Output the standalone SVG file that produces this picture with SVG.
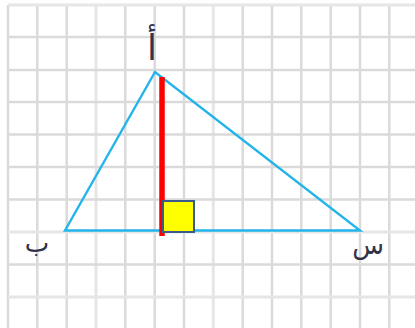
<svg xmlns="http://www.w3.org/2000/svg" width="415" height="328" viewBox="0 0 415 328">
<style>
.g{stroke:#dadada;stroke-width:2.5;fill:none}
.gl{stroke:#e6e6e6;stroke-width:3;fill:none}
.lbl{font-family:"DejaVu Sans",sans-serif;font-size:26px;fill:#33334a;text-anchor:middle}
</style>
<rect width="415" height="328" fill="#fff"/>
<g id="grid">
<line class="g" x1="8" y1="5" x2="8" y2="328"/>
<line class="g" x1="37.3" y1="5" x2="37.3" y2="328"/>
<line class="g" x1="66.7" y1="5" x2="66.7" y2="328"/>
<line class="gl" x1="96" y1="5" x2="96" y2="328"/>
<line class="g" x1="125.3" y1="5" x2="125.3" y2="328"/>
<line class="g" x1="154.7" y1="5" x2="154.7" y2="328"/>
<line class="g" x1="184" y1="5" x2="184" y2="328"/>
<line class="gl" x1="213.3" y1="5" x2="213.3" y2="328"/>
<line class="g" x1="242.7" y1="5" x2="242.7" y2="328"/>
<line class="g" x1="272" y1="5" x2="272" y2="328"/>
<line class="g" x1="301.3" y1="5" x2="301.3" y2="328"/>
<line class="g" x1="330.7" y1="5" x2="330.7" y2="328"/>
<line class="g" x1="360" y1="5" x2="360" y2="328"/>
<line class="g" x1="389.3" y1="5" x2="389.3" y2="328"/>
<line class="gl" x1="8" y1="5" x2="415" y2="5"/>
<line class="g" x1="8" y1="37" x2="415" y2="37"/>
<line class="g" x1="8" y1="70" x2="415" y2="70"/>
<line class="g" x1="8" y1="102" x2="415" y2="102"/>
<line class="g" x1="8" y1="134.5" x2="415" y2="134.5"/>
<line class="g" x1="8" y1="167" x2="415" y2="167"/>
<line class="g" x1="8" y1="199.5" x2="415" y2="199.5"/>
<line class="gl" x1="8" y1="232" x2="415" y2="232"/>
<line class="g" x1="8" y1="264.5" x2="415" y2="264.5"/>
<line class="gl" x1="8" y1="297" x2="415" y2="297"/>
</g>
<g id="triangle">
<polygon points="155,72 65,230.5 360,230.5" fill="none" stroke="#22b4ea" stroke-width="2.4" stroke-linejoin="miter"/>
</g>
<g id="height">
<line x1="162" y1="77" x2="162" y2="236" stroke="#ff0000" stroke-width="5.5"/>
</g>
<g id="right-angle">
<rect x="163" y="201" width="31" height="31" fill="#ffff00" stroke="#3a5a8c" stroke-width="2"/>
</g>
<g id="label-a"><text class="lbl" x="152" y="60" style="font-size:36px">أ</text></g>
<g id="label-b"><text class="lbl" x="37" y="252">ب</text></g>
<g id="label-s"><text class="lbl" x="368" y="254">س</text></g>
</svg>
